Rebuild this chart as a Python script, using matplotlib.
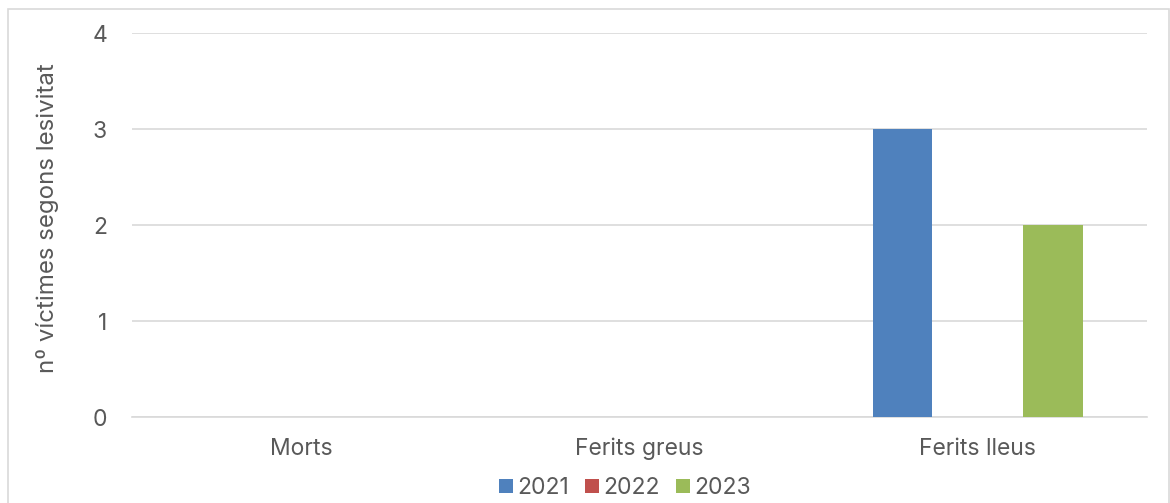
import numpy as np
import matplotlib.pyplot as plt
from matplotlib.patches import Rectangle

categories = ["Morts", "Ferits greus", "Ferits lleus"]
years = ["2021", "2022", "2023"]
v2021 = [0, 0, 3]
v2022 = [0, 0, 0]
v2023 = [0, 0, 2]
colors = ["#4f81bd", "#c0504d", "#9bbb59"]

plt.rcParams['font.family'] = ['Inter', 'DejaVu Sans']
txt = "#595959"
fs = 16.5

fig = plt.figure(figsize=(11.7, 5.03), dpi=100)
# outer chart border
fig.patches.append(Rectangle((8 / 1170, -0.05), 1161 / 1170, 1 - 9 / 503 + 0.05,
                             transform=fig.transFigure, fill=False,
                             edgecolor="#d9d9d9", linewidth=1.2))

ax = fig.add_axes([132 / 1170, 1 - 417 / 503, (1147 - 132) / 1170, (417 - 33) / 503])

x = np.arange(len(categories))
w = 0.175
step = 0.222
for i, (vals, c, lab) in enumerate(zip([v2021, v2022, v2023], colors, years)):
    ax.bar(x + (i - 1) * step, vals, width=w, color=c, label=lab, zorder=3)

ax.set_xlim(-0.5, 2.5)
ax.set_ylim(0, 4)
ax.set_yticks(range(5))
ax.set_xticks(x)
ax.set_xticklabels(categories)
ax.grid(axis="y", color="#d9d9d9", linewidth=1.2, zorder=0)
for s in ["top", "right", "left"]:
    ax.spines[s].set_visible(False)
ax.spines["bottom"].set_color("#d9d9d9")
ax.spines["bottom"].set_linewidth(1.2)
ax.tick_params(axis="both", length=0, labelsize=fs, colors=txt)
ax.tick_params(axis="x", pad=15)
ax.tick_params(axis="y", pad=18)
ax.set_ylabel("nº víctimes segons lesivitat", fontsize=17.3, color=txt)
ax.yaxis.set_label_coords(-73 / 1015, 0.517)

fig.legend(loc="center", bbox_to_anchor=(0.534, 1 - 488 / 503), ncol=3, frameon=False,
           fontsize=fs, labelcolor=txt, handlelength=0.6, handleheight=0.6,
           handletextpad=0.2, columnspacing=0.7)

fig.savefig("out.png", dpi=100)
